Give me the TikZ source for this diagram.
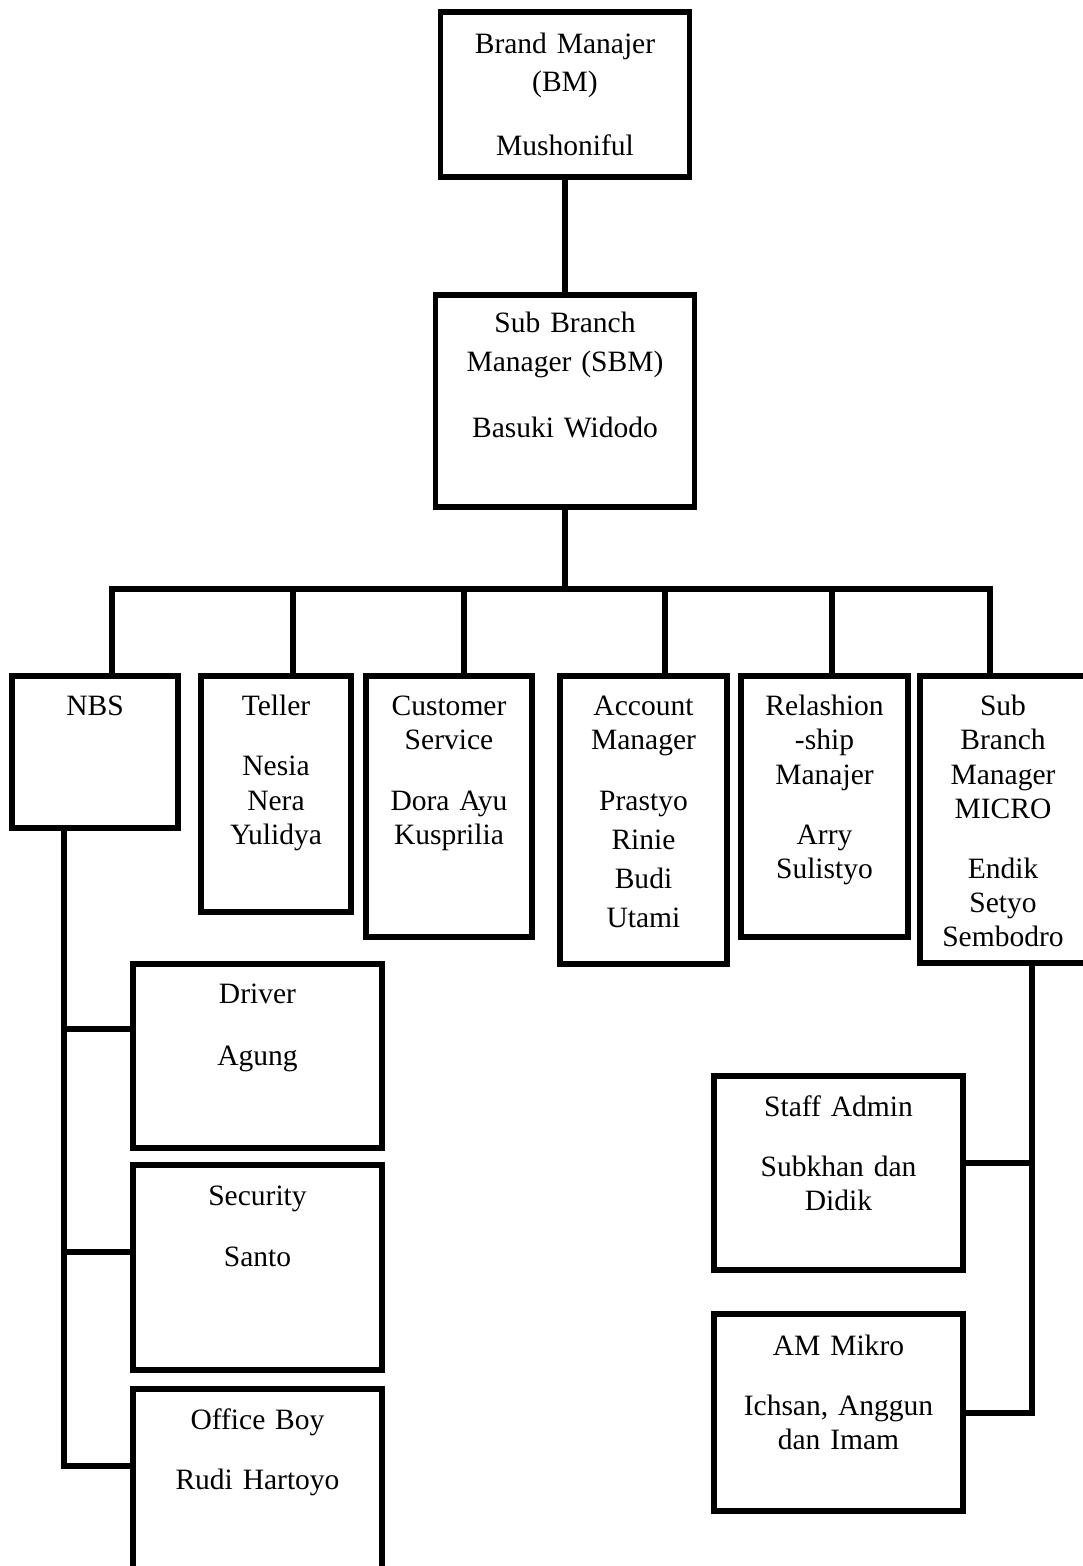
\documentclass[tikz,border=0pt]{standalone}
\usepackage{fontspec}
\setmainfont{Liberation Serif}
\usepackage{tikz}

\begin{document}
\begin{tikzpicture}[line width=3.4pt, main/.style = {draw, anchor=north, inner sep=0pt, align=center, text height=0.8cm, font=\fontsize{16.8}{19.35}\selectfont}]
\useasboundingbox (0,0) rectangle (21.66,-31.32);
\clip (0,0) rectangle (21.66,-31.32);

\node[main, text width=4.98cm, text height=0.84cm, text depth=2.46cm] (bm) at (11.30,-0.18) {Brand Manajer\\[0.08cm](BM)\\[0.6cm]Mushoniful};
\node[main, text width=5.18cm, text height=0.76cm, text depth=3.48cm] (sbm) at (11.30,-5.84) {Sub Branch\\[0.1cm]Manager (SBM)\\[0.64cm]Basuki Widodo};

\node[main, text width=3.32cm, text depth=2.24cm] (nbs) at (1.90,-13.46) {NBS};
\node[main, text width=3.00cm, text depth=3.92cm] (teller) at (5.52,-13.46) {Teller\\[0.52cm]Nesia\\Nera\\Yulidya};
\node[main, text width=3.32cm, text depth=4.42cm] (cs) at (8.98,-13.46) {Customer\\Service\\[0.52cm]Dora Ayu\\Kusprilia};
\node[main, text width=3.34cm, text depth=4.96cm] (am) at (12.87,-13.46) {Account\\Manager\\[0.52cm]Prastyo\\[0.1cm]Rinie\\[0.1cm]Budi\\[0.1cm]Utami};
\node[main, text width=3.34cm, text depth=4.42cm] (rm) at (16.49,-13.46) {Relashion\\-ship\\Manajer\\[0.52cm]Arry\\Sulistyo};
\node[main, text width=3.32cm, text depth=4.94cm] (micro) at (20.06,-13.46) {Sub\\Branch\\Manager\\MICRO\\[0.52cm]Endik\\Setyo\\Sembodro};

\node[main, text width=4.98cm, text depth=2.88cm] (driver) at (5.15,-19.22) {Driver\\[0.54cm]Agung};
\node[main, text width=4.98cm, text depth=3.30cm] (security) at (5.15,-23.24) {Security\\[0.54cm]Santo};
\node[main, text width=4.98cm, text depth=3.88cm] (ob) at (5.15,-27.72) {Office Boy\\[0.52cm]Rudi Hartoyo};

\node[main, text width=4.98cm, text depth=3.08cm] (staff) at (16.77,-21.46) {Staff Admin\\[0.52cm]Subkhan dan\\Didik};
\node[main, text width=4.98cm, text height=0.82cm, text depth=3.12cm] (ammikro) at (16.77,-26.22) {AM Mikro\\[0.52cm]Ichsan, Anggun\\dan Imam};

\draw (bm) -- (sbm);
\coordinate (bus) at (11.30,-11.78);
\draw (sbm) -- (bus);
\draw ([xshift=0.34cm]nbs.north) |- (bus);
\draw ([xshift=0.34cm]teller.north) |- (bus);
\draw ([xshift=0.30cm]cs.north) |- (bus);
\draw ([xshift=0.43cm]am.north) |- (bus);
\draw ([xshift=0.15cm]rm.north) |- (bus);
\draw ([xshift=-0.26cm]micro.north) |- (bus);

\coordinate (nbsline) at ([xshift=-0.62cm]nbs.south);
\draw (nbsline) |- ([yshift=-1.6cm]ob.north west);
\coordinate (jdriver) at ([yshift=-1.36cm]driver.north west);
\draw (jdriver) -- (jdriver -| nbsline);
\coordinate (jsecurity) at ([yshift=-1.8cm]security.north west);
\draw (jsecurity) -- (jsecurity -| nbsline);

\coordinate (microline) at ([xshift=0.58cm]micro.south);
\draw (microline) |- ([yshift=-2.04cm]ammikro.north east);
\coordinate (jstaff) at ([yshift=-1.8cm]staff.north east);
\draw (jstaff) -- (jstaff -| microline);
\end{tikzpicture}
\end{document}
